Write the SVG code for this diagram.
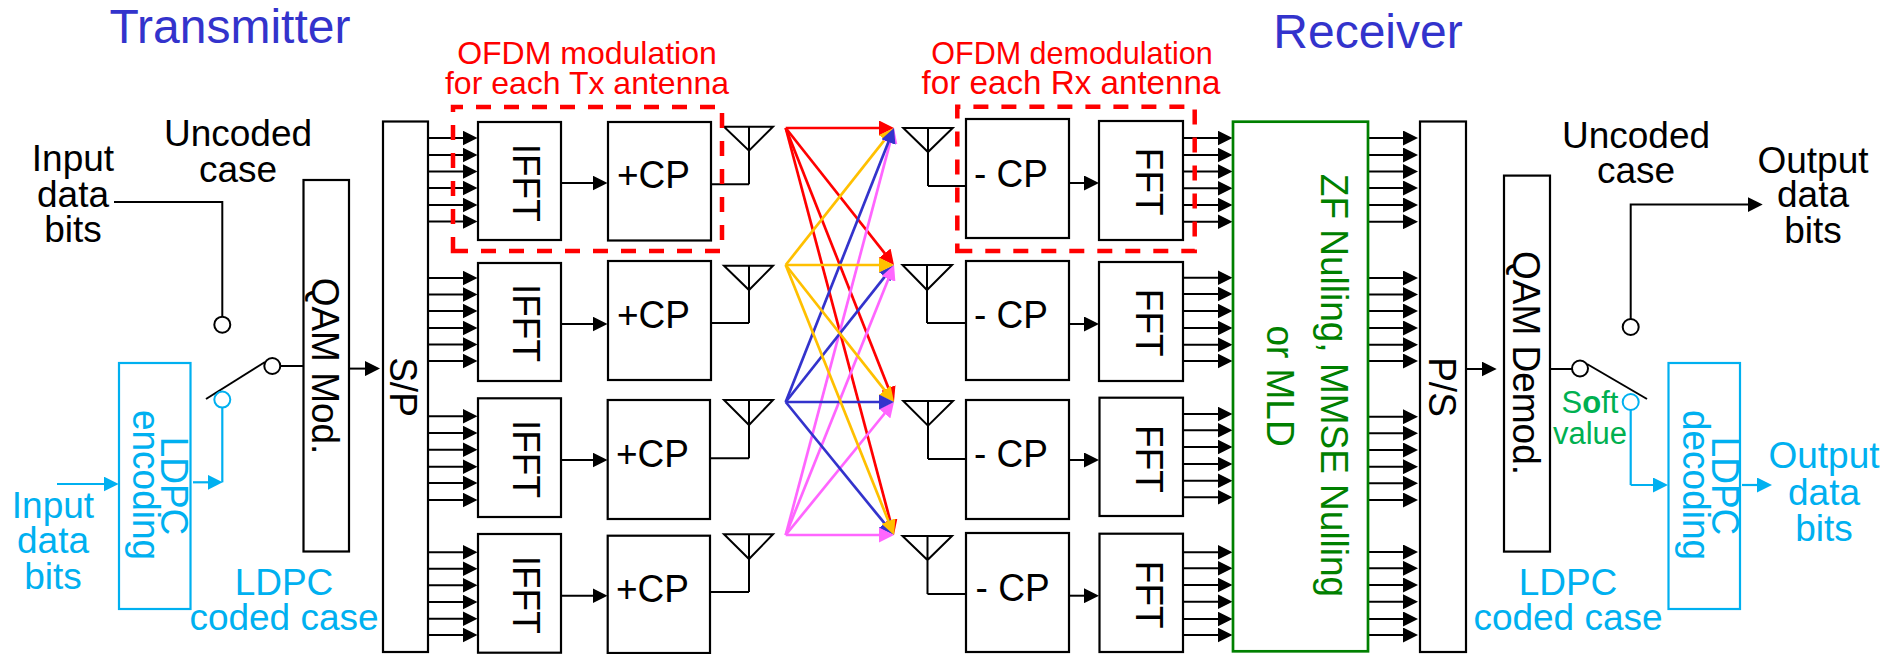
<svg xmlns="http://www.w3.org/2000/svg" width="1900" height="654" viewBox="0 0 1900 654">
<style>
text{font-family:"Liberation Sans",Arial,sans-serif;font-size:37px;fill:#000;text-anchor:middle}
.box{fill:#fff;stroke:#000;stroke-width:2.2}
.ant{fill:none;stroke:#000;stroke-width:2}
.bb{fill:#fff;stroke:#00B0F0;stroke-width:2.2}
.w{fill:none;stroke:#000;stroke-width:2}
.a{fill:none;stroke:#000;stroke-width:2;marker-end:url(#ah)}
.b{fill:none;stroke:#00B0F0;stroke-width:2.2}
.ba{fill:none;stroke:#00B0F0;stroke-width:2.2;marker-end:url(#ahb)}
.c{fill:#fff;stroke:#000;stroke-width:2}
.cb{fill:#fff;stroke:#00B0F0;stroke-width:2}
.dash{fill:none;stroke:#f00;stroke-width:4.5;stroke-dasharray:15 13}
.t-b{fill:#00B0F0}
.t-r{fill:#f00;font-size:32px}
.t-t{fill:#3333CC;font-size:48px}
.t-g{fill:#008000}
.mr,.my,.mn,.mm{fill:none;stroke-width:2.7}
.mr{stroke:#f00;marker-end:url(#mr)}
.my{stroke:#FFC000;marker-end:url(#my)}
.mn{stroke:#3333CC;marker-end:url(#mn)}
.mm{stroke:#FF66FF;marker-end:url(#mm)}
</style>
<defs>
<marker id="ah" markerUnits="userSpaceOnUse" markerWidth="15" markerHeight="15" refX="10" refY="7.5" orient="auto"><path d="M0 0L15 7.5L0 15z" fill="#000"/></marker>
<marker id="ahb" markerUnits="userSpaceOnUse" markerWidth="15" markerHeight="15" refX="10" refY="7.5" orient="auto"><path d="M0 0L15 7.5L0 15z" fill="#00B0F0"/></marker>
<marker id="mr" markerUnits="userSpaceOnUse" markerWidth="15" markerHeight="15" refX="5" refY="7.5" orient="auto"><path d="M0 0L15 7.5L0 15z" fill="#f00"/></marker>
<marker id="my" markerUnits="userSpaceOnUse" markerWidth="15" markerHeight="15" refX="5" refY="7.5" orient="auto"><path d="M0 0L15 7.5L0 15z" fill="#FFC000"/></marker>
<marker id="mn" markerUnits="userSpaceOnUse" markerWidth="15" markerHeight="15" refX="5" refY="7.5" orient="auto"><path d="M0 0L15 7.5L0 15z" fill="#3333CC"/></marker>
<marker id="mm" markerUnits="userSpaceOnUse" markerWidth="15" markerHeight="15" refX="5" refY="7.5" orient="auto"><path d="M0 0L15 7.5L0 15z" fill="#FF66FF"/></marker>
</defs>
<rect width="1900" height="654" fill="#fff"/>

<g id="labels">
<text class="t-t" x="230" y="43">Transmitter</text>
<text class="t-t" x="1368" y="48">Receiver</text>
<text class="t-r" x="587" y="64">OFDM modulation</text>
<text class="t-r" x="587" y="94">for each Tx antenna</text>
<text class="t-r" x="1072" y="64" style="font-size:30.500px">OFDM demodulation</text>
<text class="t-r" x="1071" y="94" style="font-size:33.200px">for each Rx antenna</text>
<text x="238" y="146">Uncoded</text><text x="238" y="182">case</text>
<text x="73" y="171">Input</text><text x="73" y="207">data</text><text x="73" y="242">bits</text>
<text class="t-b" x="53" y="518">Input</text><text class="t-b" x="53" y="553">data</text><text class="t-b" x="53" y="589">bits</text>
<text class="t-b" x="284" y="595">LDPC</text><text class="t-b" x="284" y="630">coded case</text>
<text x="1636" y="148">Uncoded</text><text x="1636" y="183">case</text>
<text x="1813" y="173">Output</text><text x="1813" y="207">data</text><text x="1813" y="243">bits</text>
<text class="t-b" x="1824" y="468">Output</text><text class="t-b" x="1824" y="505">data</text><text class="t-b" x="1824" y="541">bits</text>
<text class="t-b" x="1568" y="595">LDPC</text><text class="t-b" x="1568" y="630">coded case</text>
<text x="1590" y="413" style="fill:#00B050;font-size:31px">S<tspan font-weight="bold">o</tspan>ft</text>
<text x="1590" y="444" style="fill:#00B050;font-size:31px">value</text>
</g>

<g id="connectors">
<path class="w" d="M114 202H222.300V316"/>
<path class="w" d="M280 366H303"/>
<path class="w" d="M206 399L265 362"/>
<path class="a" d="M349 368.600H375"/>
<path class="b" d="M222.300 408V482.300"/>
<path class="ba" d="M193 482.300H217.700"/>
<path class="ba" d="M57 484H113.700"/>

<path class="a" d="M428 138H472.500"/><path class="a" d="M428 155H472.500"/><path class="a" d="M428 171.500H472.500"/><path class="a" d="M428 188H472.500"/><path class="a" d="M428 205H472.500"/><path class="a" d="M428 221.500H472.500"/>
<path class="a" d="M428 278H472.500"/><path class="a" d="M428 294.500H472.500"/><path class="a" d="M428 311H472.500"/><path class="a" d="M428 328H472.500"/><path class="a" d="M428 344.500H472.500"/><path class="a" d="M428 361H472.500"/>
<path class="a" d="M428 416.300H472.500"/><path class="a" d="M428 433H472.500"/><path class="a" d="M428 449.700H472.500"/><path class="a" d="M428 466.700H472.500"/><path class="a" d="M428 483H472.500"/><path class="a" d="M428 500H472.500"/>
<path class="a" d="M428 552.300H472.500"/><path class="a" d="M428 568.700H472.500"/><path class="a" d="M428 585.300H472.500"/><path class="a" d="M428 602H472.500"/><path class="a" d="M428 618.700H472.500"/><path class="a" d="M428 635H472.500"/>

<path class="a" d="M561 183H602.500"/><path class="a" d="M561 324H602.500"/><path class="a" d="M561 460H602.500"/><path class="a" d="M561 595.700H602.500"/>
<path class="w" d="M711 184.300H749"/><path class="w" d="M711 323H749"/><path class="w" d="M711 458.300H749"/><path class="w" d="M711 592H749"/>

<path class="mr" d="M785.700 128L884 128"/>
<path class="mr" d="M785.700 128L887.800 257.150"/>
<path class="mr" d="M785.700 128L890.300 392.700"/>
<path class="mr" d="M785.700 128L891.400 525.300"/>
<path class="my" d="M785.700 265L887.800 135.850"/>
<path class="mm" d="M785.700 535L891.400 137.660"/>
<path class="mn" d="M785.700 402L890.300 137.300"/>
<path class="mn" d="M785.700 402L887.800 272.850"/>
<path class="mm" d="M785.700 535L890.300 274.280"/>
<path class="my" d="M785.700 265L884 265"/>
<path class="my" d="M785.700 265L887.800 394.150"/>
<path class="mm" d="M785.700 535L887.700 409.760"/>
<path class="mn" d="M785.700 402L884 402"/>
<path class="mn" d="M785.700 402L887.700 527.200"/>
<path class="my" d="M785.700 265L890.300 525.700"/>
<path class="mm" d="M785.700 535L884 535"/>

<path class="w" d="M928 186H966"/><path class="w" d="M927 323H966"/><path class="w" d="M928 459H966"/><path class="w" d="M927.500 594H966"/>
<path class="a" d="M1069 183H1094"/><path class="a" d="M1069 324H1094"/><path class="a" d="M1069 460H1094"/><path class="a" d="M1069 595.700H1094"/>

<path class="a" d="M1183 138H1227.500"/><path class="a" d="M1183 155H1227.500"/><path class="a" d="M1183 171.500H1227.500"/><path class="a" d="M1183 188.300H1227.500"/><path class="a" d="M1183 205H1227.500"/><path class="a" d="M1183 221.700H1227.500"/>
<path class="a" d="M1183 277.700H1227.500"/><path class="a" d="M1183 294H1227.500"/><path class="a" d="M1183 311H1227.500"/><path class="a" d="M1183 328H1227.500"/><path class="a" d="M1183 344.700H1227.500"/><path class="a" d="M1183 361H1227.500"/>
<path class="a" d="M1183 414H1227.500"/><path class="a" d="M1183 430.300H1227.500"/><path class="a" d="M1183 447H1227.500"/><path class="a" d="M1183 464H1227.500"/><path class="a" d="M1183 480.700H1227.500"/><path class="a" d="M1183 497.300H1227.500"/>
<path class="a" d="M1183 552.300H1227.500"/><path class="a" d="M1183 568.300H1227.500"/><path class="a" d="M1183 585H1227.500"/><path class="a" d="M1183 601.700H1227.500"/><path class="a" d="M1183 619H1227.500"/><path class="a" d="M1183 635H1227.500"/>

<path class="a" d="M1368 138H1413"/><path class="a" d="M1368 155H1413"/><path class="a" d="M1368 171.500H1413"/><path class="a" d="M1368 188H1413"/><path class="a" d="M1368 205H1413"/><path class="a" d="M1368 221.700H1413"/>
<path class="a" d="M1368 278H1413"/><path class="a" d="M1368 294.500H1413"/><path class="a" d="M1368 311H1413"/><path class="a" d="M1368 328H1413"/><path class="a" d="M1368 344.700H1413"/><path class="a" d="M1368 361H1413"/>
<path class="a" d="M1368 416.700H1413"/><path class="a" d="M1368 433.300H1413"/><path class="a" d="M1368 450H1413"/><path class="a" d="M1368 466.700H1413"/><path class="a" d="M1368 483.300H1413"/><path class="a" d="M1368 500H1413"/>
<path class="a" d="M1368 552H1413"/><path class="a" d="M1368 568.300H1413"/><path class="a" d="M1368 585H1413"/><path class="a" d="M1368 601.700H1413"/><path class="a" d="M1368 619H1413"/><path class="a" d="M1368 635H1413"/>

<path class="a" d="M1466 369H1491.700"/>
<path class="w" d="M1550 369H1572"/>
<path class="w" d="M1587 364L1647 399"/>
<path class="a" d="M1630.700 319V204.600H1757.700"/>
<path class="b" d="M1630.700 410V485"/>
<path class="ba" d="M1630.700 485H1663"/>
<path class="ba" d="M1742 485H1767"/>
</g>

<g id="switch-tx"><circle class="c" cx="272.300" cy="366" r="8"/><circle class="c" cx="222.300" cy="324.700" r="8"/><circle class="cb" cx="222.300" cy="399.600" r="8"/></g>
<g id="switch-rx"><circle class="c" cx="1580" cy="368.500" r="8"/><circle class="c" cx="1630.700" cy="327" r="8"/><circle class="cb" cx="1630.700" cy="402" r="8"/></g>

<g id="ldpc-enc"><rect class="bb" x="119" y="363" width="71.500" height="246"/><text class="t-b" transform="translate(160.700,486) rotate(90) scale(1,1.070)">LDPC</text><text class="t-b" transform="translate(133.300,485) rotate(90) scale(1,1.070)">encoding</text></g>
<g id="qam-mod"><rect class="box" x="303.500" y="180" width="45.500" height="371.500"/><text transform="translate(311.500,366) rotate(90) scale(1,1.070)">QAM Mod.</text></g>
<g id="sp"><rect class="box" x="383" y="121.500" width="45" height="530.500"/><text transform="translate(390,387) rotate(90) scale(1,1.070)">S/P</text></g>

<g id="ifft1"><rect class="box" x="478" y="122" width="83" height="118"/><text transform="translate(513.300,182.700) rotate(90) scale(1,1.070)">IFFT</text></g>
<g id="ifft2"><rect class="box" x="478" y="263" width="83" height="118"/><text transform="translate(513.300,323) rotate(90) scale(1,1.070)">IFFT</text></g>
<g id="ifft3"><rect class="box" x="478" y="398.300" width="83" height="118.700"/><text transform="translate(513.300,459) rotate(90) scale(1,1.070)">IFFT</text></g>
<g id="ifft4"><rect class="box" x="478" y="534" width="83" height="118.700"/><text transform="translate(513.300,594.700) rotate(90) scale(1,1.070)">IFFT</text></g>

<g id="addcp1"><rect class="box" x="608" y="122" width="103" height="118.500"/><text transform="translate(653.500,188) scale(1,1.070)">+CP</text></g>
<g id="addcp2"><rect class="box" x="608" y="261" width="103" height="119"/><text transform="translate(653.500,328) scale(1,1.070)">+CP</text></g>
<g id="addcp3"><rect class="box" x="607.700" y="400" width="102.300" height="119"/><text transform="translate(652.500,467.300) scale(1,1.070)">+CP</text></g>
<g id="addcp4"><rect class="box" x="607.700" y="535.700" width="102.300" height="117.300"/><text transform="translate(652.500,602) scale(1,1.070)">+CP</text></g>

<g id="txant1"><path class="ant" d="M724 126.700H773L749 150.700ZM749 126.700V184.300"/></g>
<g id="txant2"><path class="ant" d="M724 265.700H773L749 290ZM749 265.700V323"/></g>
<g id="txant3"><path class="ant" d="M724 400H773L749 425ZM749 400V458.300"/></g>
<g id="txant4"><path class="ant" d="M724 534.300H773L749 559ZM749 534.300V592"/></g>

<g id="rxant1"><path class="ant" d="M903.300 128H952.700L928 152ZM928 128V186"/></g>
<g id="rxant2"><path class="ant" d="M902.500 265H952L927 290ZM927 265V323"/></g>
<g id="rxant3"><path class="ant" d="M903.300 401H953L928 425.700ZM928 401V459"/></g>
<g id="rxant4"><path class="ant" d="M902.500 536H952L927.500 560ZM927.500 536V594"/></g>

<g id="remcp1"><rect class="box" x="966" y="119" width="103" height="119"/><text transform="translate(1011,186.700) scale(1,1.070)">- CP</text></g>
<g id="remcp2"><rect class="box" x="966" y="261" width="103" height="119"/><text transform="translate(1011,328) scale(1,1.070)">- CP</text></g>
<g id="remcp3"><rect class="box" x="966" y="400" width="103" height="119"/><text transform="translate(1011,467.300) scale(1,1.070)">- CP</text></g>
<g id="remcp4"><rect class="box" x="966" y="533" width="103" height="119"/><text transform="translate(1012.600,600.700) scale(1,1.070)">- CP</text></g>

<g id="fft1"><rect class="box" x="1099" y="121" width="84" height="119"/><text transform="translate(1136,181.700) rotate(90) scale(1,1.070)">FFT</text></g>
<g id="fft2"><rect class="box" x="1099" y="262" width="84" height="119"/><text transform="translate(1136,322.700) rotate(90) scale(1,1.070)">FFT</text></g>
<g id="fft3"><rect class="box" x="1099.500" y="397.700" width="83.500" height="118.300"/><text transform="translate(1136,459) rotate(90) scale(1,1.070)">FFT</text></g>
<g id="fft4"><rect class="box" x="1099.500" y="533.700" width="83.500" height="118.300"/><text transform="translate(1136,594.700) rotate(90) scale(1,1.070)">FFT</text></g>

<g id="nulling"><rect x="1233" y="121.700" width="135" height="529.600" fill="#fff" stroke="#008000" stroke-width="2.700"/><text class="t-g" transform="translate(1320.700,385.500) rotate(90) scale(1,1.070)">ZF Nulling, MMSE Nulling</text><text class="t-g" transform="translate(1266.700,386) rotate(90) scale(1,1.070)">or MLD</text></g>
<g id="ps"><rect class="box" x="1420" y="121.500" width="46" height="530.500"/><text transform="translate(1429.300,387) rotate(90) scale(1,1.070)">P/S</text></g>
<g id="qam-demod"><rect class="box" x="1504" y="175.600" width="46" height="376"/><text transform="translate(1513,363) rotate(90) scale(1,1.070)">QAM Demod.</text></g>
<g id="ldpc-dec"><rect class="bb" x="1668.500" y="363" width="71.500" height="246"/><text class="t-b" transform="translate(1711.700,486) rotate(90) scale(1,1.070)">LDPC</text><text class="t-b" transform="translate(1683,485) rotate(90) scale(1,1.070)">decoding</text></g>

<g id="ofdm-tx-frame"><path class="dash" d="M453 251H722V107H453Z"/></g>
<g id="ofdm-rx-frame"><path class="dash" d="M957.300 251H1194.700V106.700H957.300Z"/></g>
</svg>
